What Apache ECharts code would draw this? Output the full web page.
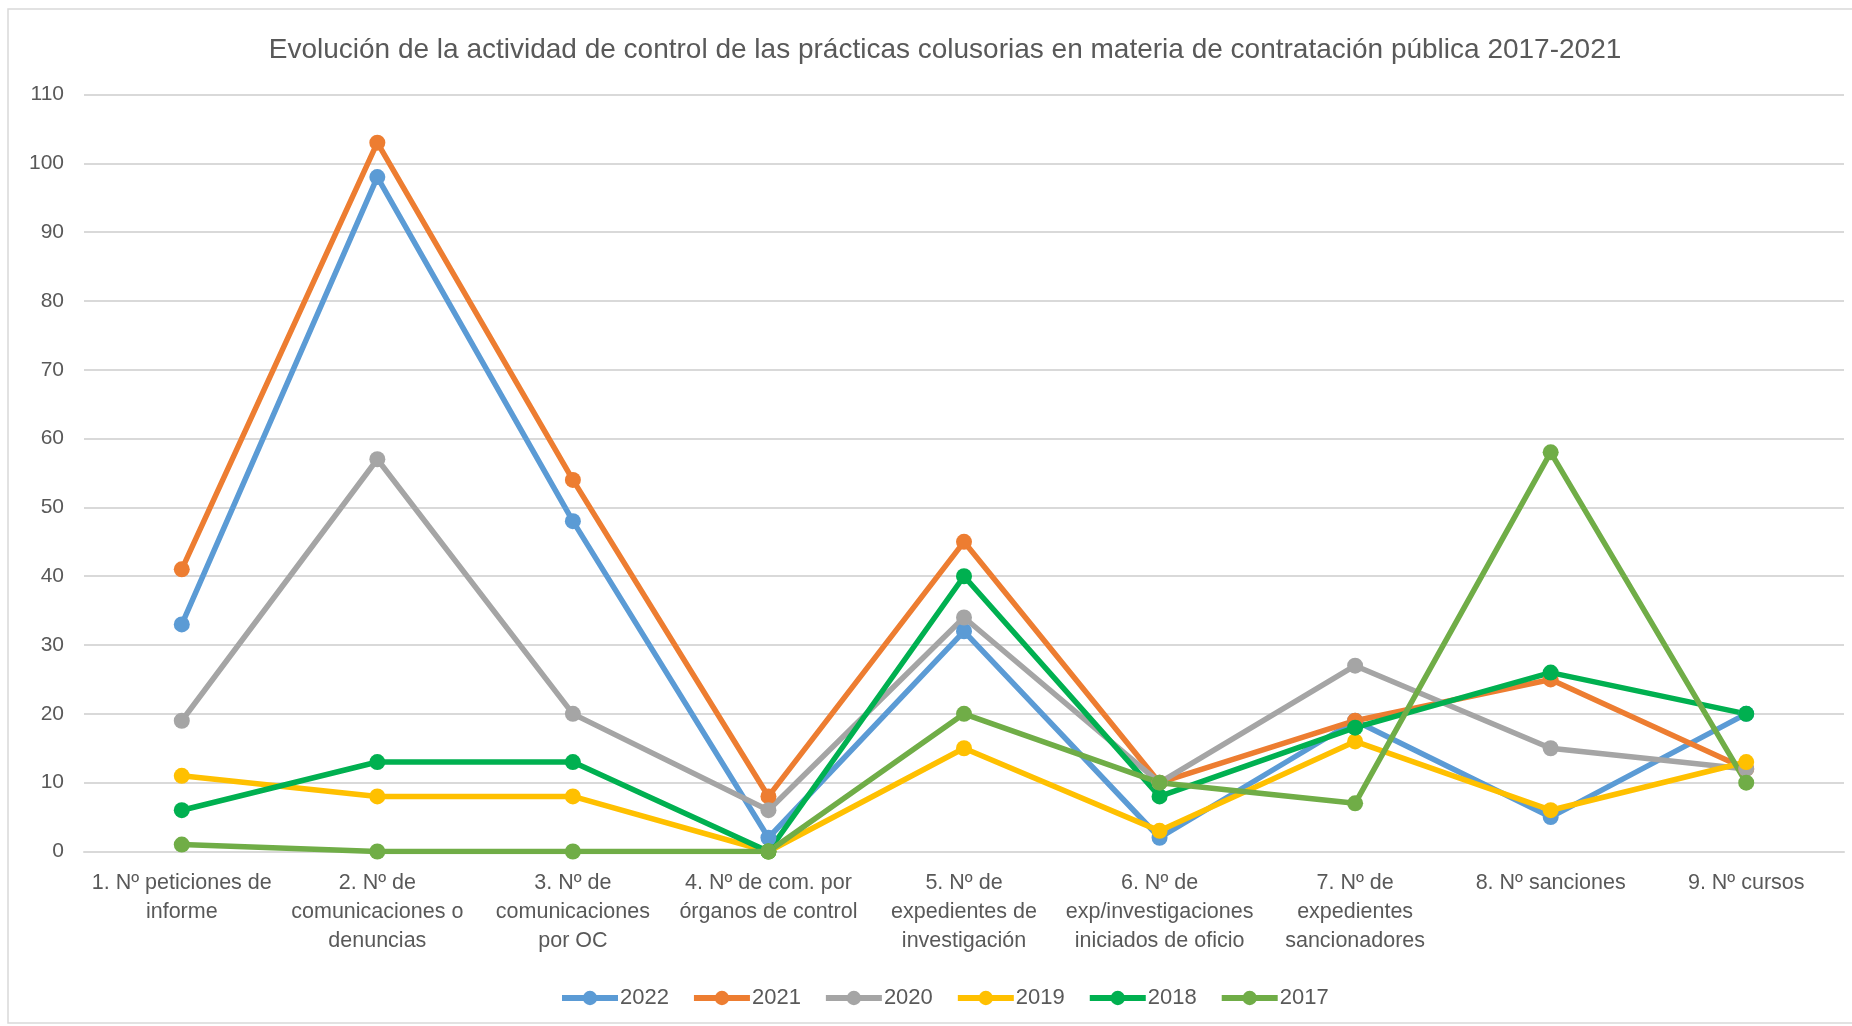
<!DOCTYPE html>
<html>
<head>
<meta charset="utf-8">
<script src="https://cdn.jsdelivr.net/npm/echarts@6/dist/echarts.min.js"></script>
<style>
html,body{margin:0;padding:0;background:#fff;}
#main{width:1852px;height:1026px;}
</style>
</head>
<body>
<div id="main"></div>
<script>
const titleText = 'Evolución de la actividad de control de las prácticas colusorias en materia de contratación pública 2017-2021';
const categories = [
  '1. Nº peticiones de\ninforme',
  '2. Nº de\ncomunicaciones o\ndenuncias',
  '3. Nº de\ncomunicaciones\npor OC',
  '4. Nº de com. por\nórganos de control',
  '5. Nº de\nexpedientes de\ninvestigación',
  '6. Nº de\nexp/investigaciones\niniciados de oficio',
  '7. Nº de\nexpedientes\nsancionadores',
  '8. Nº sanciones',
  '9. Nº cursos'
];
const seriesNames = ['2022', '2021', '2020', '2019', '2018', '2017'];
const v2022 = [33, 98, 48, 2, 32, 2, 19, 5, 20];
const v2021 = [41, 103, 54, 8, 45, 10, 19, 25, 12];
const v2020 = [19, 57, 20, 6, 34, 10, 27, 15, 12];
const v2019 = [11, 8, 8, 0, 15, 3, 16, 6, 13];
const v2018 = [6, 13, 13, 0, 40, 8, 18, 26, 20];
const v2017 = [1, 0, 0, 0, 20, 10, 7, 58, 10];
const yTicks = { min: 0, max: 110, interval: 10 };

const colors = ['#5B9BD5', '#ED7D31', '#A5A5A5', '#FFC000', '#00B050', '#70AD47'];
const values = [v2022, v2021, v2020, v2019, v2018, v2017];

const chart = echarts.init(document.getElementById('main'), null, {renderer: 'canvas'});
const txt = '#595959';
const fontFam = '"Liberation Sans", Arial, sans-serif';

chart.setOption({
  backgroundColor: '#fff',
  animation: false,
  color: colors,
  title: {
    text: titleText,
    left: 940,
    textAlign: 'center',
    top: 31,
    textStyle: { color: txt, fontSize: 28, fontWeight: 'normal', fontFamily: fontFam }
  },
  graphic: [{
    type: 'rect',
    shape: { x: 8, y: 9, width: 1860, height: 1014 },
    style: { fill: 'none', stroke: '#D9D9D9', lineWidth: 1.5 },
    silent: true, z: -1
  }],
  legend: {
    data: seriesNames,
    left: 554,
    top: 982,
    itemWidth: 56,
    itemHeight: 18,
    itemGap: 22,
    lineStyle: { width: 6 },
    textStyle: { color: txt, fontSize: 22, fontFamily: fontFam, padding: [0,0,0,-3] }
  },
  grid: { left: 84, right: 8, top: 94.5, bottom: 174.5, containLabel: false },
  xAxis: {
    type: 'category',
    data: categories,
    boundaryGap: true,
    axisLine: { show: true, lineStyle: { color: '#D9D9D9', width: 2 } },
    axisTick: { show: false },
    axisLabel: {
      color: txt, fontSize: 21.5, fontFamily: fontFam, lineHeight: 29,
      margin: 17, interval: 0
    }
  },
  yAxis: {
    type: 'value',
    min: yTicks.min, max: yTicks.max, interval: yTicks.interval,
    axisLine: { show: false },
    axisTick: { show: false },
    splitLine: { lineStyle: { color: '#D9D9D9', width: 2 } },
    axisLabel: { color: txt, fontSize: 21, fontFamily: fontFam, margin: 20 }
  },
  series: seriesNames.map((n, i) => ({
    name: n,
    type: 'line',
    data: values[i],
    symbol: 'circle',
    symbolSize: 16,
    lineStyle: { width: 5.5, color: colors[i] },
    itemStyle: { color: colors[i] },
    emphasis: { disabled: true }
  }))
});
</script>
</body>
</html>
